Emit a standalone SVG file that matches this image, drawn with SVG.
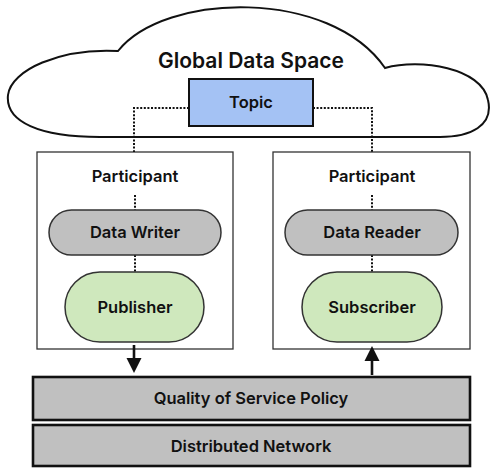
<svg xmlns="http://www.w3.org/2000/svg" width="491" height="468" viewBox="0 0 491 468">
<defs>
<style>
text{font-family:Inter,"Liberation Sans",Arial,sans-serif;font-weight:600;fill:#111;text-anchor:middle;dominant-baseline:central;font-size:16.5px}
.dot{fill:none;stroke:#111;stroke-width:2;stroke-dasharray:2 1.6}
.arr{fill:none;stroke:#111;stroke-width:2.6}
.head{fill:#111}
.box{fill:#fff;stroke:#333;stroke-width:1.3}
.gray{fill:#c0c0c0;stroke:#333;stroke-width:1.5}
.green{fill:#cfe8bd;stroke:#333;stroke-width:1.5}
.band{fill:#c0c0c0;stroke:#111;stroke-width:2.6}
</style>
</defs>
<g id="cloud">
<path d="M118,51 C165,-8 330,-12 385,68 C420,58 482,68 488,100 C494,126 470,137 440,137 L100,137 C40,137 5,122 8,95 C11,70 60,48 118,51 Z" fill="#fff" stroke="#111" stroke-width="2"/>
<text x="251" y="60" style="font-size:21px">Global Data Space</text>
</g>
<g id="participant-left">
<rect class="box" x="37" y="152" width="196" height="197"/>
<text x="135" y="176">Participant</text>
</g>
<g id="participant-right">
<rect class="box" x="273" y="152" width="197" height="197"/>
<text x="372" y="176">Participant</text>
</g>
<g id="connectors">
<path class="dot" d="M189,108 H134 V152"/>
<path class="dot" d="M313,108 H372 V152"/>
<path class="dot" d="M135,195 V210 M135,255 V272"/>
<path class="dot" d="M372,195 V210 M372,255 V272"/>
<path class="arr" d="M134,345 V360"/>
<polygon class="head" points="126.5,358 141.5,358 134,373"/>
<path class="arr" d="M372,375 V360"/>
<polygon class="head" points="364.5,361 379.5,361 372,346"/>
</g>
<g id="topic">
<rect x="189" y="79" width="124" height="47" fill="#a4c2f4" stroke="#111" stroke-width="2"/>
<text x="251" y="102">Topic</text>
</g>
<g id="data-writer">
<rect class="gray" x="49" y="210" width="172" height="45" rx="22.5"/>
<text x="135" y="232">Data Writer</text>
</g>
<g id="publisher">
<rect class="green" x="65" y="272" width="139" height="70" rx="35"/>
<text x="135" y="307">Publisher</text>
</g>
<g id="data-reader">
<rect class="gray" x="285" y="210" width="173" height="45" rx="22.5"/>
<text x="372" y="232">Data Reader</text>
</g>
<g id="subscriber">
<rect class="green" x="302" y="272" width="140" height="70" rx="35"/>
<text x="372" y="307">Subscriber</text>
</g>
<g id="qos">
<rect class="band" x="33" y="377" width="437" height="43"/>
<text x="251" y="398">Quality of Service Policy</text>
</g>
<g id="network">
<rect class="band" x="33" y="425" width="437" height="41"/>
<text x="251" y="446">Distributed Network</text>
</g>
</svg>
